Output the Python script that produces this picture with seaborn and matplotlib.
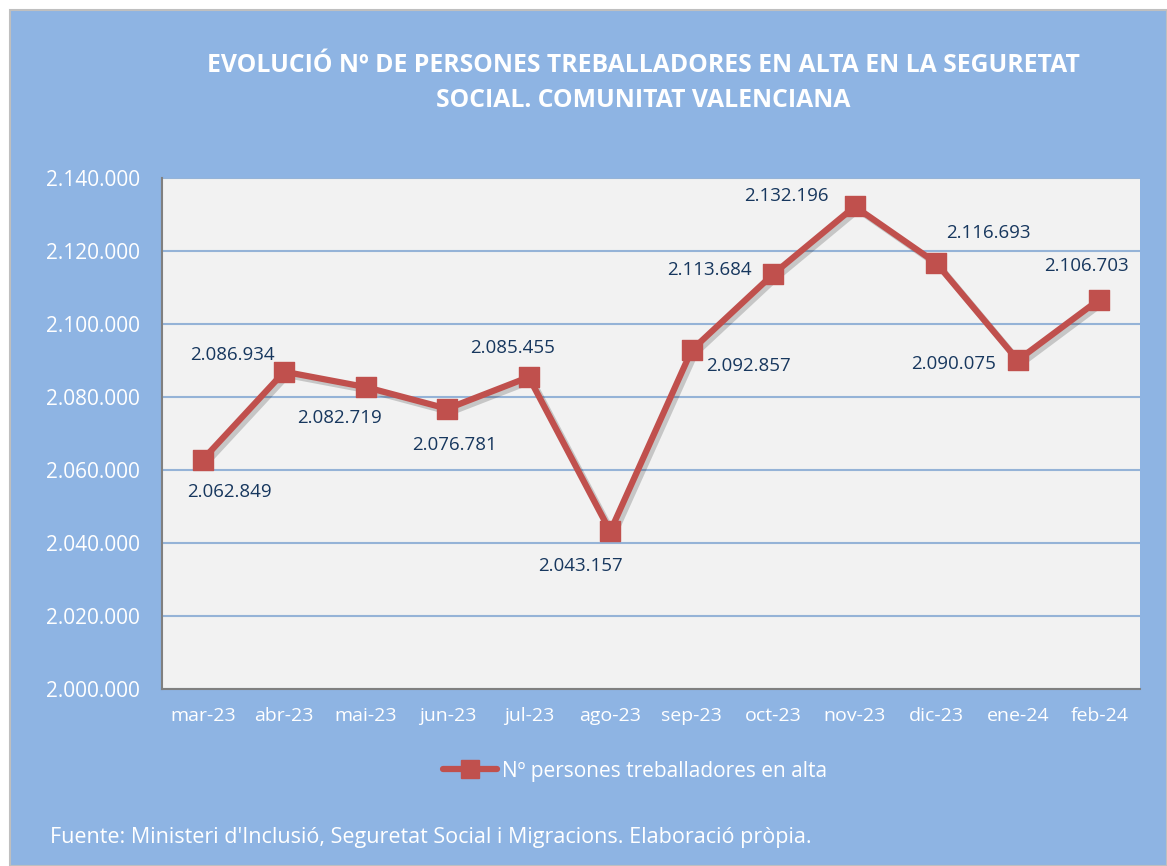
import matplotlib
matplotlib.use("Agg")
import matplotlib.pyplot as plt
import matplotlib.patheffects as pe
from matplotlib.patches import Rectangle
from matplotlib.lines import Line2D
from matplotlib.ticker import FuncFormatter, FixedLocator
import seaborn as sns
import pandas as pd

months = ["mar-23", "abr-23", "mai-23", "jun-23", "jul-23", "ago-23",
          "sep-23", "oct-23", "nov-23", "dic-23", "ene-24", "feb-24"]
values = [2062849, 2086934, 2082719, 2076781, 2085455, 2043157,
          2092857, 2113684, 2132196, 2116693, 2090075, 2106703]
series_name = "Nº persones treballadores en alta"
title = "EVOLUCIÓ Nº DE PERSONES TREBALLADORES EN ALTA EN LA SEGURETAT\nSOCIAL. COMUNITAT VALENCIANA"
source = "Fuente: Ministeri d'Inclusió, Seguretat Social i Migracions. Elaboració pròpia."

# label offsets in pixels (dx, dy) relative to each point
label_offsets = [(27, -32), (-52, 17), (-26, -31), (7, -36), (-16, 29), (-30, -35),
                 (57, -16), (-64, 4), (-68, 10), (52, 30), (-64, -4), (-13, 34)]

sns.set_theme(style="white")
plt.rcParams['font.family'] = ['Open Sans', 'DejaVu Sans']

BLUE = "#8EB4E3"
RED = "#C0504D"
NAVY = "#17375E"

df = pd.DataFrame({"x": list(range(len(months))), "y": values})

fig = plt.figure(figsize=(11.67, 8.66), dpi=100, facecolor="white")
fig.patches.append(Rectangle((10 / 1167, 0), 1 - 10 / 1167, 1 - 10 / 866,
                             transform=fig.transFigure, facecolor=BLUE,
                             edgecolor="#BFBFBF", linewidth=1.5, zorder=-10))
ax = fig.add_axes([162 / 1167, 1 - 689 / 866, (1140 - 162) / 1167, (689 - 178) / 866])
ax.set_zorder(1)
ax.set_facecolor("#F2F2F2")

sns.lineplot(data=df, x="x", y="y", color=RED, linewidth=4.5, ax=ax, zorder=3,
             legend=False)
for ln in ax.lines:
    ln.set_path_effects([pe.SimpleLineShadow(offset=(2.5, -2.5), shadow_color="black", alpha=0.18),
                         pe.Normal()])
sns.scatterplot(data=df, x="x", y="y", marker="s", s=220, color=RED,
                edgecolor=RED, linewidth=1, ax=ax, zorder=4, legend=False)

ax.set_xlim(-0.5, len(months) - 0.5)
ax.set_ylim(2000000, 2140000)
ax.yaxis.set_major_locator(FixedLocator(list(range(2000000, 2140001, 20000))))
ax.yaxis.set_major_formatter(FuncFormatter(lambda v, p: f"{int(v):,}".replace(",", ".")))
ax.grid(axis="y", color="#95B3D7", linewidth=1.5)
ax.set_axisbelow(True)

ax.set_xticks(range(len(months)))
ax.set_xticklabels(months)
ax.set_xticks([i - 0.5 for i in range(len(months) + 1)], minor=True)
ax.tick_params(axis="x", which="major", length=0, pad=13, labelsize=14, labelcolor="white")
ax.tick_params(axis="x", which="minor", length=6, width=1.5, color="#808080", direction="out")
ax.tick_params(axis="y", length=6, width=1.5, color="#808080", direction="out",
               labelsize=15, labelcolor="white", pad=10)
ax.set_xlabel("")
ax.set_ylabel("")
for s in ["top", "right"]:
    ax.spines[s].set_visible(False)
for s in ["left", "bottom"]:
    ax.spines[s].set_color("#808080")
    ax.spines[s].set_linewidth(1.5)

for i, v in enumerate(values):
    dx, dy = label_offsets[i]
    ax.annotate(f"{v:,}".replace(",", "."), (i, v), xytext=(dx, dy),
                textcoords="offset pixels", ha="center", va="center",
                fontsize=13.5, color=NAVY, zorder=5)

fig.text(643 / 1167, 1 - 83 / 866, title, ha="center", va="center", color="white",
         fontsize=17.8, fontweight="bold", linespacing=1.55)

handle = Line2D([], [], color=RED, linewidth=4.5, marker="s", markersize=13,
                markerfacecolor=RED, markeredgecolor=RED)
ax.legend([handle], [series_name], loc="center",
          bbox_to_anchor=(635 / 1167, 1 - 771 / 866),
          bbox_transform=fig.transFigure, frameon=False, fontsize=15,
          handlelength=2.6, handletextpad=0.2, labelcolor="white")

fig.text(50 / 1167, 1 - 838 / 866, source, ha="left", va="center", color="white", fontsize=15.5)

fig.savefig("out.png", dpi=100, facecolor="white")
